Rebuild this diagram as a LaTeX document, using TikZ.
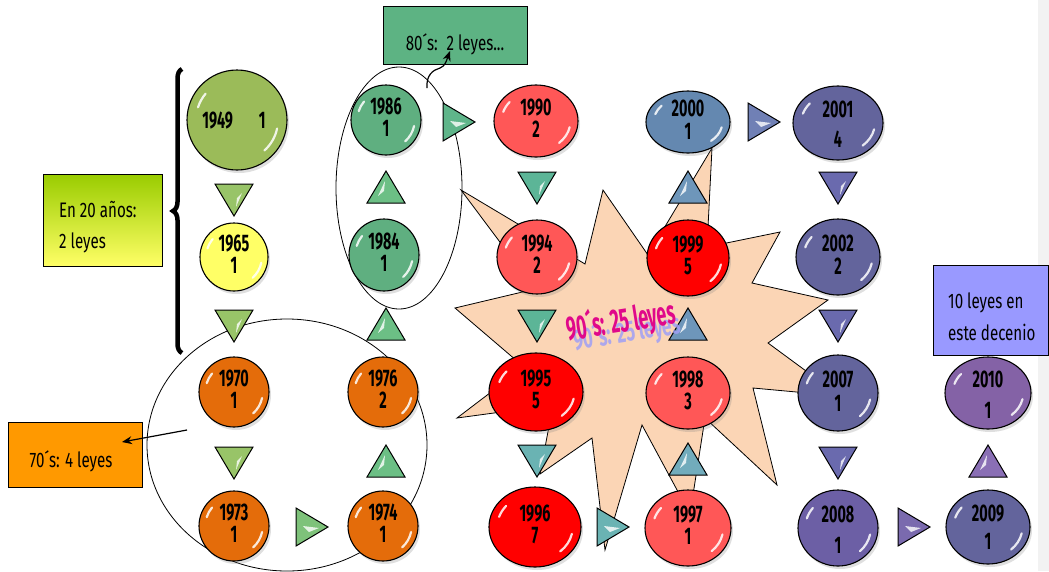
\documentclass[tikz,border=0pt]{standalone}
\usepackage{fontspec}
\usepackage{graphicx}
\newfontfamily\agb[FakeStretch=0.6]{Fira Sans}
\newfontfamily\agr[FakeStretch=0.72]{Fira Sans}
\newfontfamily\waf[FakeStretch=0.5]{Fira Sans}
\usetikzlibrary{shapes.geometric,shadows,decorations.pathreplacing,arrows.meta,calc}
\definecolor{olive}{HTML}{9BBB59}
\definecolor{yel}{HTML}{FFFF66}
\definecolor{org}{HTML}{E46C0A}
\definecolor{grn}{HTML}{5FAF80}
\definecolor{redl}{HTML}{FF5757}
\definecolor{redd}{HTML}{FF0000}
\definecolor{steel}{HTML}{6488B0}
\definecolor{slate}{HTML}{63649C}
\definecolor{purp}{HTML}{6C5FA5}
\definecolor{purp2}{HTML}{8462A6}
\definecolor{tc1}{HTML}{98C468}
\definecolor{tc1r}{HTML}{7EC27A}
\definecolor{tc2}{HTML}{6CBF85}
\definecolor{tc2r}{HTML}{5FB58A}
\definecolor{tc3}{HTML}{5CB597}
\definecolor{tc3b}{HTML}{6AB3B3}
\definecolor{tc4a}{HTML}{72ACBC}
\definecolor{tc4}{HTML}{6E96BA}
\definecolor{tc4r}{HTML}{7080B5}
\definecolor{tc5}{HTML}{6A6AAE}
\definecolor{tc5r}{HTML}{7A6AAE}
\definecolor{tc6}{HTML}{8A6FB5}
\definecolor{peach}{HTML}{FBD5B5}
\definecolor{c80}{HTML}{5DB383}
\definecolor{c70}{HTML}{FF9900}
\definecolor{c10}{HTML}{9999FF}
\definecolor{g20t}{HTML}{99CC00}
\definecolor{g20b}{HTML}{FFFF66}
\definecolor{strip}{HTML}{F2F2F2}
\definecolor{wam}{HTML}{E0088A}
\definecolor{was}{HTML}{A0A0F5}
\tikzset{
 ball/.style={ellipse, draw=black, line width=1.1pt, inner sep=0pt,
   drop shadow={opacity=.25, shadow xshift=2pt, shadow yshift=-3pt}},
 hl/.style={white, line width=2.2pt, line cap=round, opacity=.85},
 yr/.style={inner sep=0pt, font=\agb\bfseries\fontsize{24}{24}\selectfont},
 tri/.style={draw=black, line width=1pt, line join=miter},
 glint/.style={white, opacity=.8},
 box/.style={draw=black, line width=1pt, inner sep=0pt},
 btxt/.style={inner sep=0pt, font=\agr\fontsize{21}{31}\selectfont},
 arr/.style={line width=1.2pt, -{Stealth[length=10pt,width=8pt]}},
 outl/.style={draw=black, ellipse, line width=.8pt, inner sep=0pt}
}
\newcommand\ball[9]{%
 \node[ball, fill=#6, minimum width=2*#4pt, minimum height=2*#5pt] (#1) at (#2,-#3) {};
 \draw[hl] (#2,-#3) ++(162:{0.82*#4} and {0.82*#5}) arc[start angle=162, end angle=140, x radius=0.82*#4, y radius=0.82*#5];
 \draw[hl] (#2,-#3) ++(-12:{0.82*#4} and {0.82*#5}) arc[start angle=-12, end angle=-48, x radius=0.82*#4, y radius=0.82*#5];
 \node[yr, anchor=base] (#1y) at (#2,-#3+6) {#7};
 \node[yr, anchor=base] (#1c) at (#2,-#3-#9) {#8};
}
\newcommand\tdown[3]{%
 \draw[tri, fill=#3] (#1-19,-#2+15) -- (#1+19,-#2+15) -- (#1,-#2-17) -- cycle;
 \fill[glint] (#1+8,-#2+6) -- (#1+2,-#2-8) -- (#1+3,-#2+1) -- cycle;
}
\newcommand\tup[3]{%
 \draw[tri, fill=#3] (#1-19,-#2-15) -- (#1+19,-#2-15) -- (#1,-#2+17) -- cycle;
 \fill[glint] (#1-8,-#2-8) -- (#1-1,-#2+7) -- (#1-2,-#2-3) -- cycle;
}
\newcommand\tright[3]{%
 \draw[tri, fill=#3] (#1-15,-#2+19) -- (#1-15,-#2-19) -- (#1+17,-#2) -- cycle;
 \fill[glint] (#1-8,-#2+1) -- (#1+8,-#2-1) -- (#1-2,-#2-5) -- cycle;
}
\begin{document}
\begin{tikzpicture}[x=1pt,y=1pt]
\fill[white] (0,0) rectangle (1049,-571);
\useasboundingbox (0,0) rectangle (1049,-571);
\fill[strip] (1038,0) rectangle (1049,-571);

% outline ellipses
\node[outl, minimum width=126pt, minimum height=242pt] (e80) at (399,-188) {};
\node[outl, minimum width=280pt, minimum height=252pt] (e70) at (287,-445) {};

% star
\draw[fill=peach, line width=.8pt, line join=miter]
 (461,-190) -- (585,-264) -- (603,-190) -- (648,-255) -- (712,-148) -- (707,-247)
 -- (780,-232) -- (752,-283) -- (828,-300) -- (768,-343) -- (840,-396) -- (753,-388)
 -- (777,-485) -- (705,-418) -- (690,-514) -- (642,-425) -- (605,-550) -- (592,-438)
 -- (540,-474) -- (553,-405) -- (457,-418) -- (524,-367) -- (455,-308) -- (535,-289) -- cycle;

% brace
\draw[decorate, decoration={brace, amplitude=9pt}, line width=4.5pt] (182,-353) -- (182,-69);

% triangles
\tdown{234}{199}{tc1}
\tdown{234}{325}{tc1}
\tdown{234}{462}{tc1}
\tright{311}{527}{tc1r}
\tup{386}{462}{tc2}
\tup{386}{325}{tc2}
\tup{386}{188}{tc2}
\tright{458}{122}{tc2r}
\tdown{537}{187}{tc3}
\tdown{537}{325}{tc3}
\tdown{537}{460}{tc3b}
\tright{612}{527}{tc3b}
\tup{688}{460}{tc4a}
\tup{688}{325}{tc4}
\tup{688}{188}{tc4}
\tright{763}{122}{tc4r}
\tdown{838}{187}{tc5}
\tdown{838}{325}{tc5}
\tdown{838}{462}{tc5}
\tright{913}{527}{tc5r}
\tup{988}{462}{tc6}

% balls
\ball{b1949}{237}{120}{50}{50}{olive}{}{}{0}
\node[yr, anchor=base] (b1949t) at (234,-128) {1949\hspace{26pt}1};
\ball{b1965}{234}{257}{34}{34}{yel}{1965}{1}{16}
\ball{b1970}{234}{392}{35}{35}{org}{1970}{1}{16}
\ball{b1973}{234}{526}{35}{35}{org}{1973}{1}{16}
\ball{b1974}{383}{526}{35}{35}{org}{1974}{1}{16}
\ball{b1976}{383}{392}{35}{35}{org}{1976}{2}{16}
\ball{b1984}{384}{255}{35}{36}{grn}{1984}{1}{16}
\ball{b1986}{386}{120}{35}{35}{grn}{1986}{1}{16}
\ball{b1990}{536}{121}{42}{36}{redl}{1990}{2}{16}
\ball{b1994}{537}{257}{40}{37}{redl}{1994}{2}{16}
\ball{b1995}{536}{392}{47}{39}{redd}{1995}{5}{16}
\ball{b1996}{535}{527}{46}{40}{redd}{1996}{7}{16}
\ball{b1997}{688}{528}{43}{38}{redl}{1997}{1}{16}
\ball{b1998}{688}{393}{42}{36}{redl}{1998}{3}{16}
\ball{b1999}{688}{258}{41}{38}{redd}{1999}{5}{16}
\ball{b2000}{688}{122}{42}{31}{steel}{2000}{1}{17}
\ball{b2001}{838}{123}{45}{37}{slate}{2001}{4}{24}
\ball{b2002}{838}{257}{42}{38}{slate}{2002}{2}{17}
\ball{b2007}{838}{393}{40}{38}{slate}{2007}{1}{18}
\ball{b2008}{838}{528}{40}{38}{purp}{2008}{1}{25}
\ball{b2009}{988}{527}{42}{37}{slate}{2009}{1}{22}
\ball{b2010}{988}{393}{43}{36}{purp2}{2010}{1}{25}

% boxes
\node[box, minimum width=119pt, minimum height=92pt, top color=g20t, bottom color=g20b] (b20) at (102.5,-220) {};
\node[btxt, anchor=base west] (b20a) at (59,-217) {En 20 años:};
\node[btxt, anchor=base west] (b20b) at (59,-248) {2 leyes};

\node[box, fill=c80, minimum width=144pt, minimum height=58pt] (b80) at (455,-35) {};
\node[btxt, anchor=base] (b80t) at (455,-50) {80´s:\, 2 leyes...};

\node[box, fill=c70, minimum width=134pt, minimum height=65pt] (b70) at (75,-454.5) {};
\node[btxt, anchor=base] (b70t) at (71,-467) {70´s: 4 leyes};

\node[box, fill=c10, minimum width=115pt, minimum height=90pt] (b10) at (990.5,-310) {};
\node[btxt, anchor=base west] (b10a) at (948,-308) {10 leyes en};
\node[btxt, anchor=base west] (b10b) at (948,-340) {este decenio};

% arrows
\coordinate (a80s) at (427,-88);
\coordinate (a80e) at (450,-51);
\draw[arr] (a80s) .. controls (426,-75) and (433,-70) .. (440,-68) .. controls (445,-66) and (446,-62) .. (a80e);
\coordinate (a70s) at (187,-430);
\coordinate (a70e) at (122,-442);
\draw[arr] (a70s) -- (a70e);

% word art
\node[inner sep=0pt, rotate=9, text=was, opacity=.85] (was) at (627,-333) {\resizebox{108pt}{24pt}{\waf\bfseries 90´s: 25 leyes}};
\node[inner sep=0pt, rotate=9, text=wam] (wam) at (621,-322) {\resizebox{110pt}{28pt}{\waf\bfseries 90´s: 25 leyes}};
\end{tikzpicture}
\end{document}
